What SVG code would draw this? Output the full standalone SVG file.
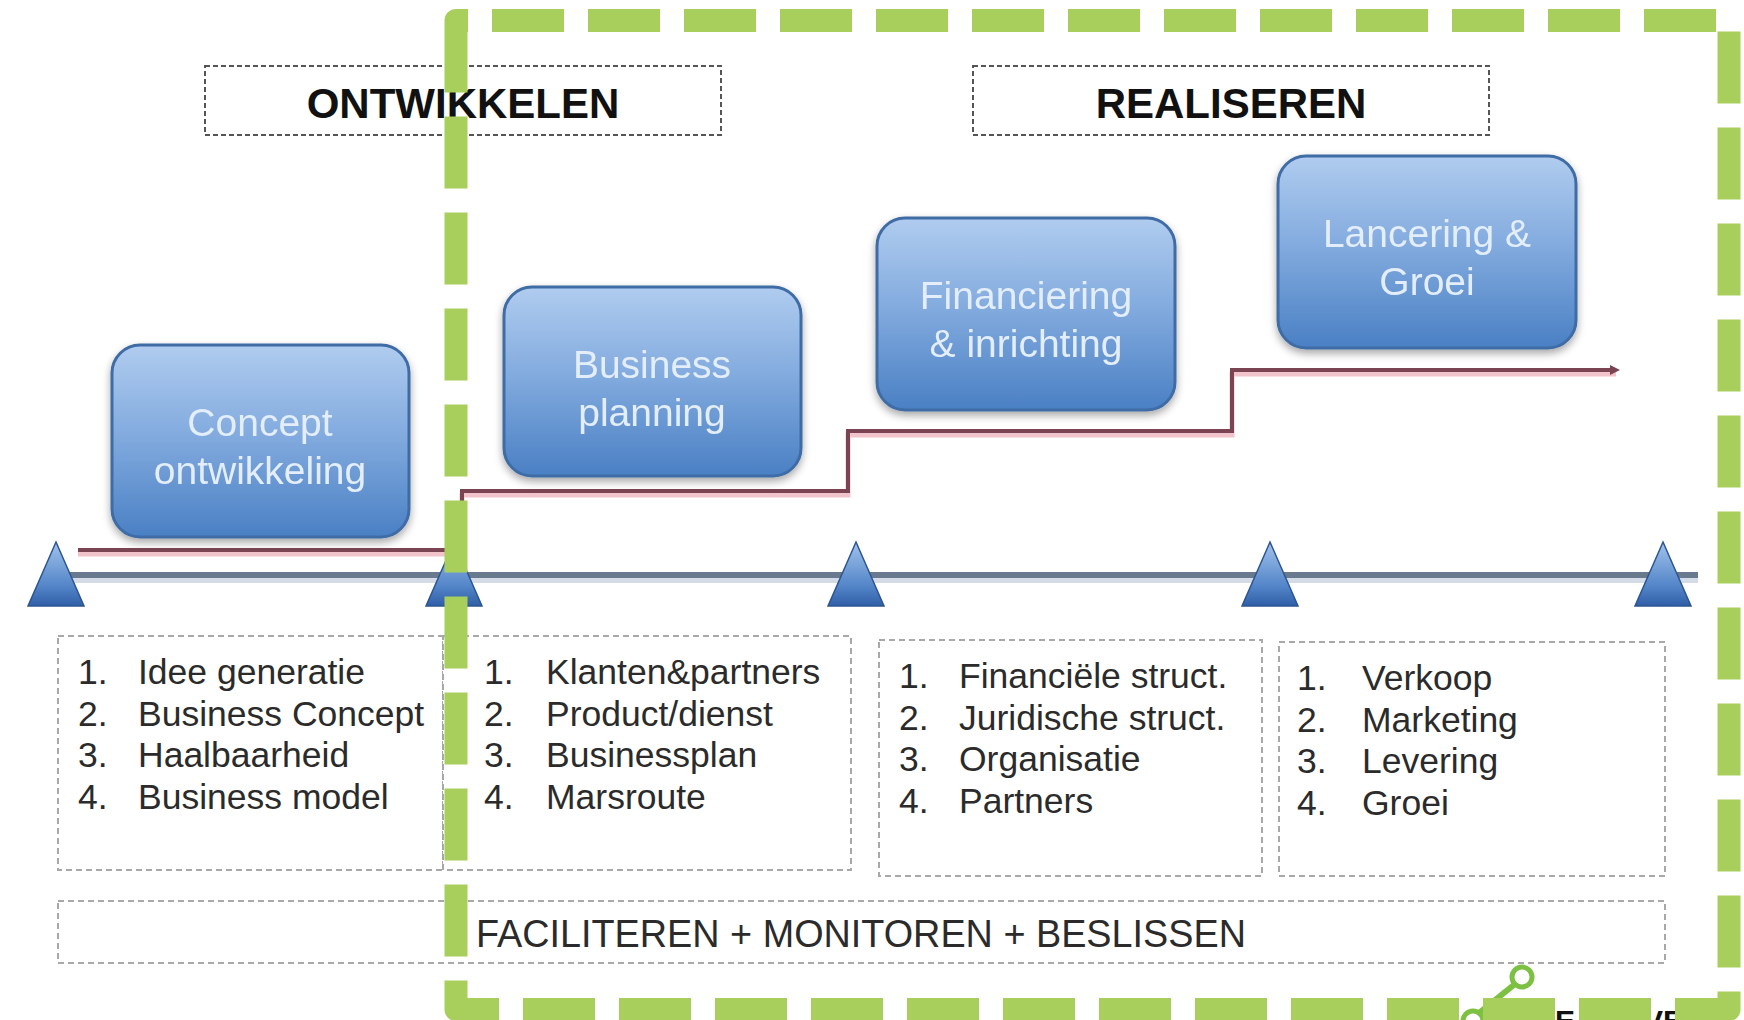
<svg xmlns="http://www.w3.org/2000/svg" width="1744" height="1020" viewBox="0 0 1744 1020">
<defs>
  <linearGradient id="boxGrad" x1="0" y1="0" x2="0" y2="1">
    <stop offset="0" stop-color="#b0ccef"/>
    <stop offset="0.45" stop-color="#84acdf"/>
    <stop offset="1" stop-color="#4a80c4"/>
  </linearGradient>
  <linearGradient id="triGrad" x1="0" y1="0" x2="0" y2="1">
    <stop offset="0" stop-color="#a2c3ec"/>
    <stop offset="0.7" stop-color="#5284c8"/>
    <stop offset="1" stop-color="#2f5ea6"/>
  </linearGradient>
  <filter id="shadow" x="-10%" y="-10%" width="120%" height="130%">
    <feGaussianBlur in="SourceAlpha" stdDeviation="4"/>
    <feOffset dy="4"/>
    <feComponentTransfer><feFuncA type="linear" slope="0.35"/></feComponentTransfer>
    <feMerge><feMergeNode/><feMergeNode in="SourceGraphic"/></feMerge>
  </filter>
  <marker id="arrow" markerUnits="userSpaceOnUse" markerWidth="12" markerHeight="12" refX="6" refY="5" orient="auto">
    <path d="M0,0 L10,5 L0,10 Z" fill="#7b4452"/>
  </marker>
</defs>
<style>
  .hdr {fill:#fff; stroke:#555; stroke-width:2; stroke-dasharray:5 3;}
  .hdrtxt {font-family:"Liberation Sans",Arial,sans-serif; font-weight:bold; font-size:42px; fill:#111; text-anchor:middle;}
  .box {fill:url(#boxGrad); stroke:#3f6ca6; stroke-width:3;}
  .boxtxt {font-family:"Liberation Sans",Arial,sans-serif; font-size:39px; fill:#e3eefa; text-anchor:middle;}
  .list {fill:#fff; stroke:#a8a8a8; stroke-width:2; stroke-dasharray:6 4;}
  .lt {font-family:"Liberation Sans",Arial,sans-serif; font-size:35.5px; fill:#2b2b2b;}
  .tri {fill:url(#triGrad); stroke:#2c5590; stroke-width:1.5;}
  .green {fill:none; stroke:#a8cf5c; stroke-width:23; stroke-dasharray:72 24; stroke-dashoffset:60; stroke-linejoin:round;}
  .logo {fill:#fff; stroke:#7cc142; stroke-width:5;}
  .logotxt {font-family:"Liberation Sans",Arial,sans-serif; font-weight:bold; font-size:30px; fill:#111;}
</style>
<rect x="0" y="0" width="1744" height="1020" fill="#fff"/>

<g id="hdr-ontwikkelen">
  <rect class="hdr" x="205" y="66" width="516" height="69"/>
  <text class="hdrtxt" x="463" y="118">ONTWIKKELEN</text>
</g>
<g id="hdr-realiseren">
  <rect class="hdr" x="973" y="66" width="516" height="69"/>
  <text class="hdrtxt" x="1231" y="118">REALISEREN</text>
</g>

<g id="list-1">
  <rect class="list" x="58" y="636" width="385" height="234"/>
  <text class="lt" x="78" y="684">1.</text><text class="lt" x="138" y="684">Idee generatie</text>
  <text class="lt" x="78" y="725.5">2.</text><text class="lt" x="138" y="725.5">Business Concept</text>
  <text class="lt" x="78" y="767">3.</text><text class="lt" x="138" y="767">Haalbaarheid</text>
  <text class="lt" x="78" y="808.5">4.</text><text class="lt" x="138" y="808.5">Business model</text>
</g>
<g id="list-2">
  <rect class="list" x="443" y="636" width="408" height="234"/>
  <text class="lt" x="484" y="684">1.</text><text class="lt" x="546" y="684">Klanten&amp;partners</text>
  <text class="lt" x="484" y="725.5">2.</text><text class="lt" x="546" y="725.5">Product/dienst</text>
  <text class="lt" x="484" y="767">3.</text><text class="lt" x="546" y="767">Businessplan</text>
  <text class="lt" x="484" y="808.5">4.</text><text class="lt" x="546" y="808.5">Marsroute</text>
</g>
<g id="list-3">
  <rect class="list" x="879" y="640" width="383" height="236"/>
  <text class="lt" x="899" y="688">1.</text><text class="lt" x="959" y="688">Financiële struct.</text>
  <text class="lt" x="899" y="729.5">2.</text><text class="lt" x="959" y="729.5">Juridische struct.</text>
  <text class="lt" x="899" y="771">3.</text><text class="lt" x="959" y="771">Organisatie</text>
  <text class="lt" x="899" y="812.5">4.</text><text class="lt" x="959" y="812.5">Partners</text>
</g>
<g id="list-4">
  <rect class="list" x="1279" y="642" width="386" height="234"/>
  <text class="lt" x="1297" y="690">1.</text><text class="lt" x="1362" y="690">Verkoop</text>
  <text class="lt" x="1297" y="731.5">2.</text><text class="lt" x="1362" y="731.5">Marketing</text>
  <text class="lt" x="1297" y="773">3.</text><text class="lt" x="1362" y="773">Levering</text>
  <text class="lt" x="1297" y="814.5">4.</text><text class="lt" x="1362" y="814.5">Groei</text>
</g>
<g id="bottom-bar">
  <rect class="list" x="58" y="901" width="1607" height="62"/>
  <text class="lt" x="476" y="947" style="font-size:39px" textLength="770" lengthAdjust="spacingAndGlyphs">FACILITEREN + MONITOREN + BESLISSEN</text>
</g>

<g id="connectors">
  <line x1="56" y1="578" x2="1698" y2="578" stroke="#d3dbe6" stroke-width="10"/>
  <line x1="56" y1="575" x2="1698" y2="575" stroke="#6a7a8e" stroke-width="6"/>
  <path d="M78,554 H462 V495 H848 V435 H1232 V374 H1616" fill="none" stroke="#f1c3cb" stroke-width="5"/>
  <path d="M78,550 H462 V491 H848 V431 H1232 V370 H1616" fill="none" stroke="#7b4452" stroke-width="4" marker-end="url(#arrow)"/>
</g>

<g id="milestone-1"><polygon class="tri" points="56,542 84,606 28,606"/></g>
<g id="milestone-2"><polygon class="tri" points="454,542 482,606 426,606"/></g>
<g id="milestone-3"><polygon class="tri" points="856,542 884,606 828,606"/></g>
<g id="milestone-4"><polygon class="tri" points="1270,542 1298,606 1242,606"/></g>
<g id="milestone-5"><polygon class="tri" points="1663,542 1691,606 1635,606"/></g>

<g id="phase-concept" filter="url(#shadow)">
  <rect class="box" x="112" y="345" width="297" height="192" rx="28"/>
  <text class="boxtxt" x="260" y="436">Concept</text>
  <text class="boxtxt" x="260" y="484">ontwikkeling</text>
</g>
<g id="phase-business" filter="url(#shadow)">
  <rect class="box" x="504" y="287" width="297" height="189" rx="28"/>
  <text class="boxtxt" x="652" y="378">Business</text>
  <text class="boxtxt" x="652" y="426">planning</text>
</g>
<g id="phase-financiering" filter="url(#shadow)">
  <rect class="box" x="877" y="218" width="298" height="192" rx="28"/>
  <text class="boxtxt" x="1026" y="309">Financiering</text>
  <text class="boxtxt" x="1026" y="357">&amp; inrichting</text>
</g>
<g id="phase-lancering" filter="url(#shadow)">
  <rect class="box" x="1278" y="156" width="298" height="192" rx="28"/>
  <text class="boxtxt" x="1427" y="247">Lancering &amp;</text>
  <text class="boxtxt" x="1427" y="295">Groei</text>
</g>

<g id="logo">
  <line x1="1515" y1="984" x2="1479" y2="1013" stroke="#7cc142" stroke-width="6"/>
  <circle class="logo" cx="1522" cy="977" r="10"/>
  <circle class="logo" cx="1473" cy="1021" r="10"/>
  <text class="logotxt" x="1555" y="1031">E</text>
  <text class="logotxt" x="1643" y="1031">VE</text>
</g>

<g id="frame">
  <rect class="green" x="456" y="20.5" width="1273" height="989"/>
</g>
</svg>
